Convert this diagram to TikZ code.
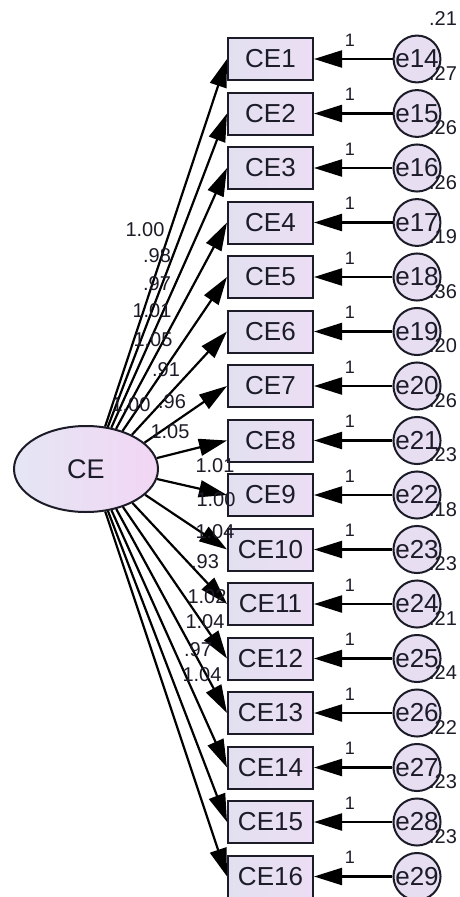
\documentclass[tikz,border=0pt]{standalone}
\usepackage{fontspec}
\setmainfont{Liberation Sans}
\usetikzlibrary{arrows.meta,shapes.geometric}
\definecolor{ink}{RGB}{28,28,40}
\definecolor{boxL}{RGB}{226,224,240}
\definecolor{boxR}{RGB}{236,222,244}
\definecolor{latL}{RGB}{228,230,244}
\definecolor{latR}{RGB}{242,214,244}
\definecolor{errfill}{RGB}{232,222,242}
\begin{document}
\begin{tikzpicture}[x=1pt,y=-1pt,
  obs/.style={rectangle, draw=ink, line width=2pt, minimum width=85pt, minimum height=42pt,
    inner sep=0pt, left color=boxL, right color=boxR, text=ink,
    font=\fontsize{26}{26}\selectfont},
  err/.style={circle, draw=ink, line width=2pt, minimum size=40pt, inner sep=0pt,
    fill=errfill, text=ink, font=\fontsize{26}{26}\selectfont},
  lat/.style={ellipse, draw=ink, line width=2pt, minimum width=144pt, minimum height=86pt,
    inner sep=0pt, left color=latL, right color=latR, text=ink,
    font=\fontsize{27}{27}\selectfont},
  regpath/.style={line width=2.2pt, draw=black, -{Triangle[length=28pt,width=17pt]}},
  est/.style={inner sep=0pt, text=ink, font=\fontsize{20}{20}\selectfont},
  one/.style={inner sep=0pt, text=ink, font=\fontsize{18}{18}\selectfont},
]
\useasboundingbox (0,0) rectangle (459,897);

% latent factor
\node[lat] (CE) at (86,469) {CE};

% indicators, error terms and fixed error paths
\foreach \i [evaluate=\i as \yy using {59+54.5*(\i-1)},
             evaluate=\i as \e using {int(\i+13)}] in {1,...,16} {
  \node[obs] (CE\i) at (270.5,\yy) {CE\i};
  \node[err] (e\e) at (417,\yy) {e\e};
  \draw[regpath] (e\e) -- (CE\i);
  \node[one] (one\i) at (350,{\yy-19}) {1};
}

% factor loadings: each path leaves the ellipse towards the box centre
% and ends on the box's left side
\foreach \i in {1,...,16} {
  \path (CE) -- (CE\i) coordinate[pos=0] (s\i);
  \draw[regpath] (s\i) -- (CE\i.west);
}

% error variances
\foreach \v [count=\i] in {.21,.27,.26,.26,.19,.36,.20,.26,.23,.18,.23,.21,.24,.22,.23,.23} {
  \node[est] (var\i) at (443,{59+54.5*(\i-1)-40}) {\v};
}

% loading estimates
\foreach \p/\q/\v [count=\k] in {
  145/230/1.00, 157/256/.98, 157/284/.97, 152/311/1.01, 153/340/1.05,
  166/370/.91, 131/405/1.00, 172/402/.96, 170/432/1.05, 215/466/1.01,
  216/500/1.00, 215/532/1.04, 205/562/.93, 207/597/1.02, 205/622/1.04,
  198/650/.97, 202/675/1.04} {
  \node[est] (ld\k) at (\p,\q) {\v};
}
\end{tikzpicture}
\end{document}
